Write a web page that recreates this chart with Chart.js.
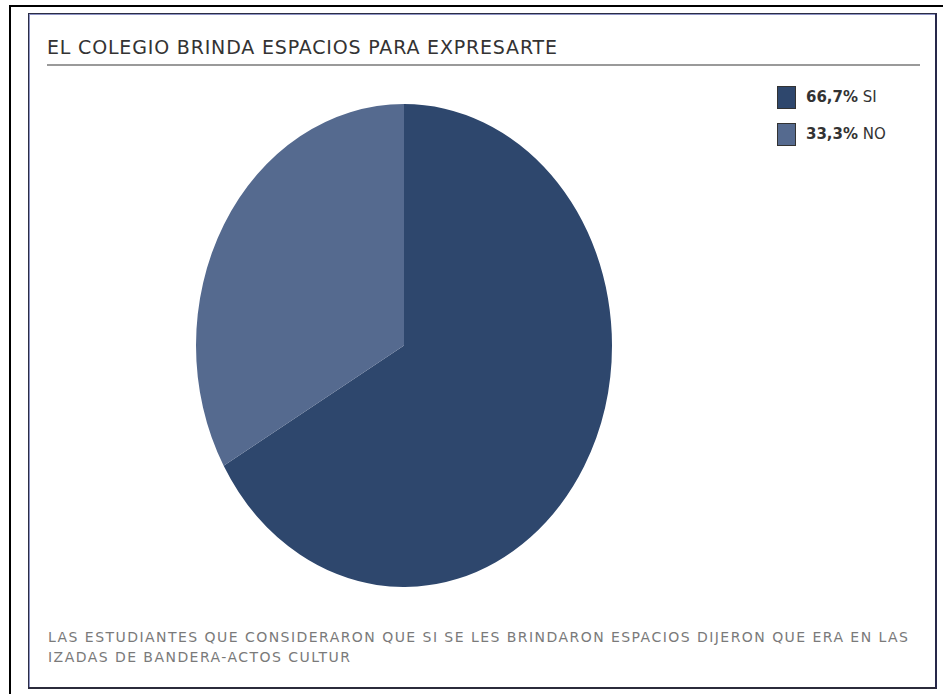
<!DOCTYPE html>
<html>
<head>
<meta charset="utf-8">
<script src="https://cdn.jsdelivr.net/npm/chart.js@4/dist/chart.umd.min.js"></script>
<style>
  html, body { margin:0; padding:0; background:#fff; width:943px; height:694px; overflow:hidden; }
  #frame { position:absolute; left:9px; top:5px; width:940px; height:700px; border-left:2px solid #000; border-top:2px solid #000; }
  #panel { position:absolute; left:28px; top:13px; width:906px; height:673px; border:1px solid #2b2d45; border-right:2px solid #26284a; border-bottom:2px solid #2b2b3b; box-shadow: inset 1px 1px 0 #8d93c4; background:#fff; }
  #title { position:absolute; left:47px; top:38px; font-family:"DejaVu Sans",sans-serif; font-size:19px; line-height:19px; color:#333; white-space:nowrap; }
  #rule { position:absolute; left:47px; top:64px; width:873px; height:2px; background:#9a9a9a; }
  #legend { position:absolute; left:777px; top:86px; font-family:"DejaVu Sans",sans-serif; font-size:15px; line-height:15px; color:#333; }
  .item { position:absolute; left:0; white-space:nowrap; height:24px; }
  .sw { position:absolute; left:0; top:0; width:19px; height:23px; border:1px solid #333; box-sizing:border-box; }
  .lt { position:absolute; left:29px; top:4px; }
  .lt b { font-weight:bold; }
  #note { position:absolute; left:48px; top:627px; font-family:"DejaVu Sans",sans-serif; font-size:14px; color:#7a7a7a; line-height:20px; white-space:nowrap; }
  #pieWrap { position:absolute; left:196px; top:104px; width:416px; height:483px; }
</style>
</head>
<body>
<div id="frame"></div>
<div id="panel"></div>
<div id="title"></div>
<div id="rule"></div>
<div id="legend"></div>
<div id="pieWrap"><canvas id="c" width="416" height="483"></canvas></div>
<div id="note"></div>
<script>
const titleText = "EL COLEGIO BRINDA ESPACIOS PARA EXPRESARTE";
const categories = ["SI", "NO"];
const values = [66.7, 33.3];
const percentLabels = ["66,7%", "33,3%"];
const colors = ["#2e476d", "#556a8f"];
const noteLines = [
  "LAS ESTUDIANTES QUE CONSIDERARON QUE SI SE LES BRINDARON ESPACIOS DIJERON QUE ERA EN LAS",
  "IZADAS DE BANDERA-ACTOS CULTUR"
];

const titleEl = document.getElementById('title');
titleEl.textContent = titleText;
const noteEl = document.getElementById('note');
noteLines.forEach((l, i) => {
  const s = document.createElement('div');
  s.textContent = l;
  noteEl.appendChild(s);
});
const leg = document.getElementById('legend');
categories.forEach((c, i) => {
  const d = document.createElement('div');
  d.className = 'item';
  d.style.top = (i * 37) + 'px';
  d.innerHTML = '<div class="sw" style="background:' + colors[i] + '"></div><div class="lt"><b>' + percentLabels[i] + '</b> ' + c + '</div>';
  leg.appendChild(d);
});

// fit letter spacing so text widths match the reference
function fitSpacing(el, target, text) {
  const cv = document.createElement('canvas').getContext('2d');
  const cs = getComputedStyle(el);
  cv.font = cs.fontWeight + ' ' + cs.fontSize + ' ' + cs.fontFamily;
  const w = cv.measureText(text).width;
  el.style.letterSpacing = ((target - w) / (text.length - 1)) + 'px';
}
fitSpacing(titleEl, 510, titleText);
fitSpacing(noteEl, 860, noteLines[0]);

// stretch the pie vertically into an ellipse, like the reference
const ellipsePlugin = {
  id: 'ellipse',
  beforeDatasetsDraw(chart) {
    const a = chart.chartArea;
    const cx = (a.left + a.right) / 2, cy = (a.top + a.bottom) / 2;
    const k = chart.height / (a.right - a.left);
    const ctx = chart.ctx;
    ctx.save();
    ctx.translate(cx, cy);
    ctx.scale(1, k);
    ctx.translate(-cx, -cy);
  },
  afterDatasetsDraw(chart) { chart.ctx.restore(); }
};

new Chart(document.getElementById('c'), {
  type: 'pie',
  data: {
    labels: categories,
    datasets: [{ data: values, backgroundColor: colors, borderWidth: 0, hoverOffset: 0 }]
  },
  options: {
    responsive: false,
    animation: false,
    devicePixelRatio: 1,
    rotation: 0,
    layout: { padding: { top: 33.5, bottom: 33.5, left: 0, right: 0 } },
    plugins: { legend: { display: false }, tooltip: { enabled: false }, title: { display: false } }
  },
  plugins: [ellipsePlugin]
});
</script>
</body>
</html>
